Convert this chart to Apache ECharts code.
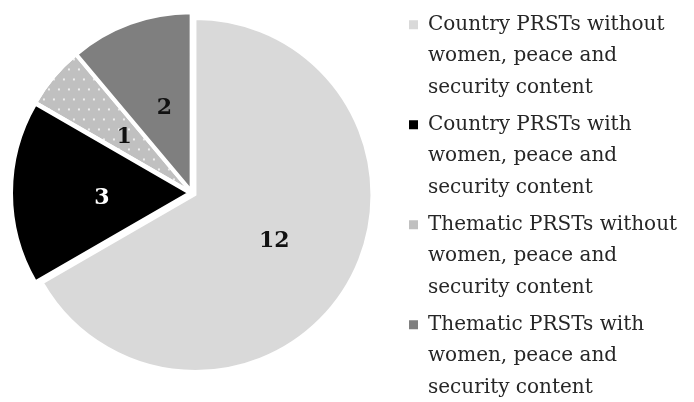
<!DOCTYPE html>
<html>
<head>
<meta charset="utf-8">
<script src="https://cdn.jsdelivr.net/npm/echarts@6/dist/echarts.min.js"></script>
<style>
  html, body { margin: 0; padding: 0; background: #fff; }
  #chart { width: 694px; height: 402px; }
</style>
</head>
<body>
<div id="chart"></div>
<script>
// slice names (legend text, line-broken as in the figure)
const names = [
  'Country PRSTs without\nwomen, peace and\nsecurity content',
  'Country PRSTs with\nwomen, peace and\nsecurity content',
  'Thematic PRSTs without\nwomen, peace and\nsecurity content',
  'Thematic PRSTs with\nwomen, peace and\nsecurity content'
]
const values = [12, 3, 1, 2]
const colors = ['#d9d9d9', '#000000', '#c0c0c0', '#7f7f7f']
const labelColors = ['#111', '#fff', '#111', '#111']

const chart = echarts.init(document.getElementById('chart'))

const rich = {
  sp: { width: 19, height: 10 },
  gap: { width: 10, height: 10 }
}
colors.forEach(function(c, i) {
  rich['sq' + i] = { width: 9, height: 9, backgroundColor: c }
})

chart.setOption({
  animation: false,
  legend: {
    orient: 'vertical',
    left: 403,
    top: 9,
    height: 400,
    padding: 0,
    itemWidth: 0,
    itemHeight: 10,
    itemGap: 5.5,
    icon: 'rect',
    itemStyle: { opacity: 0 },
    selectedMode: false,
    data: names,
    formatter: function(name) {
      const i = names.indexOf(name)
      const lines = name.split('\n')
      return lines.map(function(l, k) {
        return (k === 0 ? '{sq' + i + '|}{gap|}' : '{sp|}') + l
      }).join('\n')
    },
    textStyle: {
      fontFamily: 'DejaVu Serif',
      fontSize: 20,
      lineHeight: 31.5,
      color: '#262626',
      rich: rich
    }
  },
  series: [{
    type: 'pie',
    center: [192, 193],
    radius: 176,
    startAngle: 90,
    clockwise: true,
    selectedMode: 'multiple',
    selectedOffset: 4,
    itemStyle: {
      borderColor: '#fff',
      borderWidth: 2
    },
    label: {
      show: true,
      position: 'inside',
      fontFamily: 'DejaVu Serif',
      fontSize: 22,
      fontWeight: 'bold',
      formatter: '{c}'
    },
    // small slices carry their numbers a bit nearer the middle
    labelLayout: function(params) {
      return params.dataIndex === 0 ? { dx: 0, dy: 1 } : { dx: 5, dy: 5 }
    },
    labelLine: { show: false },
    emphasis: { disabled: true },
    data: values.map(function(v, i) {
      const item = {
        name: names[i],
        value: v,
        selected: true,
        itemStyle: { color: colors[i] },
        label: { color: labelColors[i] }
      }
      if (i === 2) {
        item.itemStyle.decal = {
          symbol: 'circle',
          symbolSize: 0.5,
          color: '#ffffff',
          dashArrayX: [[4, 6], [0, 5, 4, 1]],
          dashArrayY: [4, 6],
          rotation: 0
        }
      }
      return item
    })
  }]
})
</script>
</body>
</html>
